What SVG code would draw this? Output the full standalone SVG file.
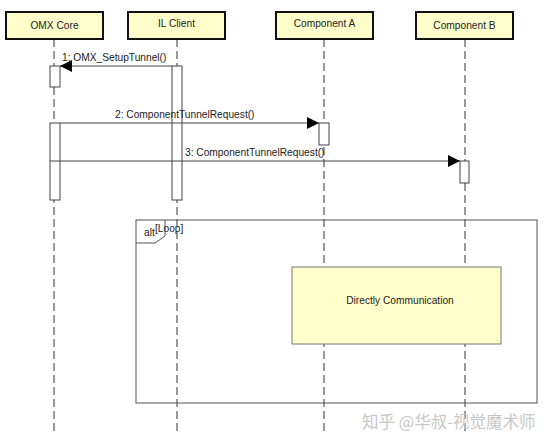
<svg xmlns="http://www.w3.org/2000/svg" width="549" height="445" viewBox="0 0 549 445">
<defs>
<style>
text{font-family:"Liberation Sans",Arial,sans-serif;font-size:10.2px;fill:#222}
.head{fill:#FFFFCC;stroke:#111;stroke-width:2}
.life{stroke:#333;stroke-width:1;stroke-dasharray:8,4}
.act{fill:#fff;stroke:#444;stroke-width:1}
.msg{stroke:#444;stroke-width:1;fill:none}
</style>
<marker id="ah" viewBox="0 0 12 12" refX="12" refY="6" markerWidth="12" markerHeight="12" markerUnits="userSpaceOnUse" orient="auto">
<path d="M0,0 L12,6 L0,12 z" fill="#000"/>
</marker>
</defs>
<rect width="549" height="445" fill="#fff"/>
<g id="lifelines">
<line class="life" x1="54" y1="39" x2="54" y2="432"/>
<line class="life" x1="177" y1="39" x2="177" y2="432"/>
<line class="life" x1="324" y1="39" x2="324" y2="432"/>
<line class="life" x1="465" y1="39" x2="465" y2="432"/>
</g>
<g id="omx-core">
<rect class="head" x="6" y="12" width="97" height="27"/>
<text x="54.5" y="29" text-anchor="middle">OMX Core</text>
</g>
<g id="il-client">
<rect class="head" x="128" y="12" width="97" height="27"/>
<text x="176.5" y="27" text-anchor="middle">IL Client</text>
</g>
<g id="component-a">
<rect class="head" x="276" y="12" width="97" height="27"/>
<text x="324.5" y="27" text-anchor="middle">Component A</text>
</g>
<g id="component-b">
<rect class="head" x="416" y="12" width="97" height="27"/>
<text x="464.5" y="29" text-anchor="middle">Component B</text>
</g>
<g id="alt-frame">
<rect x="136" y="220" width="401" height="183" fill="none" stroke="#555" stroke-width="1"/>
<path d="M136,243 L155,243 L165,236 L165,220" fill="none" stroke="#555" stroke-width="1"/>
<text x="144" y="236">alt</text>
<text x="155" y="232">[Loop]</text>
</g>
<g id="directly-communication">
<rect x="292" y="267" width="209" height="77" fill="#FFFFCC" stroke="#777" stroke-width="1"/>
<text x="400" y="304" text-anchor="middle">Directly Communication</text>
</g>
<g id="activations">
<rect class="act" x="50" y="66" width="10" height="21"/>
<rect class="act" x="172" y="66" width="10" height="134"/>
<rect class="act" x="50" y="123" width="10" height="77"/>
<rect class="act" x="319" y="123" width="10" height="22"/>
<rect class="act" x="460" y="161" width="9" height="22"/>
</g>
<g id="connectors">
<line class="msg" x1="172" y1="66" x2="60" y2="66" marker-end="url(#ah)"/>
<line class="msg" x1="60" y1="123" x2="319" y2="123" marker-end="url(#ah)"/>
<line class="msg" x1="50" y1="161" x2="460" y2="161" marker-end="url(#ah)"/>
<text x="62" y="61">1: OMX_SetupTunnel()</text>
<text x="115" y="118">2: ComponentTunnelRequest()</text>
<text x="185" y="156">3: ComponentTunnelRequest()</text>
</g>
<text x="362" y="428" style="font-family:'Noto Sans CJK SC',sans-serif;font-size:16.5px;fill:#c8c8c8">知乎 @华叔-视觉魔术师</text>
</svg>
